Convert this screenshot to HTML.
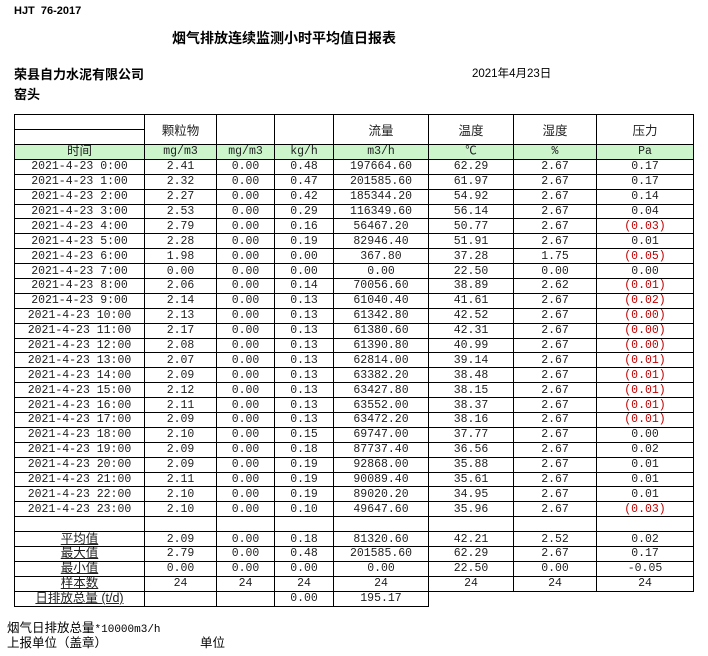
<!DOCTYPE html>
<html><head><meta charset="utf-8"><style>
body{margin:0;width:708px;height:656px;background:#fff;position:relative;overflow:hidden;font-family:"Liberation Mono","Noto Sans CJK SC",monospace;color:#000}
.a{position:absolute;white-space:nowrap}
.cj{font-family:"Liberation Sans","Noto Sans CJK SC",sans-serif}
table{position:absolute;left:14px;top:114px;border-collapse:collapse;table-layout:fixed;font-size:11.5px;color:#222}
td{border:1px solid #000;padding:0;text-align:center;height:13.9px;line-height:13px;overflow:hidden;white-space:nowrap}
tr.g td{background:#ccf5cc}
.r{color:#c00000}
.h td{height:14px}
.u{text-decoration:underline}
</style></head><body>
<div class="a cj" style="left:14px;top:5px;font-size:11px;font-weight:bold">HJT&nbsp;&nbsp;76-2017</div>
<div class="a cj" style="left:172px;top:28px;font-size:14px;font-weight:bold">烟气排放连续监测小时平均值日报表</div>
<div class="a cj" style="left:14px;top:64px;font-size:13px;font-weight:bold">荣县自力水泥有限公司</div>
<div class="a cj" style="left:14px;top:84px;font-size:13px;font-weight:bold">窑头</div>
<div class="a cj" style="left:472px;top:65px;font-size:11.5px">2021年4月23日</div>
<table>
<colgroup><col style="width:130px"><col style="width:72px"><col style="width:58px"><col style="width:59px"><col style="width:95px"><col style="width:85px"><col style="width:83px"><col style="width:97px"></colgroup>
<tr class="h"><td></td><td rowspan="2" class="cj" style="font-size:12.5px;padding-top:3px">颗粒物</td><td rowspan="2"></td><td rowspan="2"></td><td rowspan="2" class="cj" style="font-size:12.5px;padding-top:3px">流量</td><td rowspan="2" class="cj" style="font-size:12.5px;padding-top:3px">温度</td><td rowspan="2" class="cj" style="font-size:12.5px;padding-top:3px">湿度</td><td rowspan="2" class="cj" style="font-size:12.5px;padding-top:3px">压力</td></tr>
<tr class="h"><td></td></tr>
<tr class="g"><td class="cj" style="font-size:12.5px">时间</td><td>mg/m3</td><td>mg/m3</td><td>kg/h</td><td>m3/h</td><td>℃</td><td>%</td><td>Pa</td></tr>
<tr><td>2021-4-23 0:00</td><td>2.41</td><td>0.00</td><td>0.48</td><td>197664.60</td><td>62.29</td><td>2.67</td><td>0.17</td></tr>
<tr><td>2021-4-23 1:00</td><td>2.32</td><td>0.00</td><td>0.47</td><td>201585.60</td><td>61.97</td><td>2.67</td><td>0.17</td></tr>
<tr><td>2021-4-23 2:00</td><td>2.27</td><td>0.00</td><td>0.42</td><td>185344.20</td><td>54.92</td><td>2.67</td><td>0.14</td></tr>
<tr><td>2021-4-23 3:00</td><td>2.53</td><td>0.00</td><td>0.29</td><td>116349.60</td><td>56.14</td><td>2.67</td><td>0.04</td></tr>
<tr><td>2021-4-23 4:00</td><td>2.79</td><td>0.00</td><td>0.16</td><td>56467.20</td><td>50.77</td><td>2.67</td><td class="r">(0.03)</td></tr>
<tr><td>2021-4-23 5:00</td><td>2.28</td><td>0.00</td><td>0.19</td><td>82946.40</td><td>51.91</td><td>2.67</td><td>0.01</td></tr>
<tr><td>2021-4-23 6:00</td><td>1.98</td><td>0.00</td><td>0.00</td><td>367.80</td><td>37.28</td><td>1.75</td><td class="r">(0.05)</td></tr>
<tr><td>2021-4-23 7:00</td><td>0.00</td><td>0.00</td><td>0.00</td><td>0.00</td><td>22.50</td><td>0.00</td><td>0.00</td></tr>
<tr><td>2021-4-23 8:00</td><td>2.06</td><td>0.00</td><td>0.14</td><td>70056.60</td><td>38.89</td><td>2.62</td><td class="r">(0.01)</td></tr>
<tr><td>2021-4-23 9:00</td><td>2.14</td><td>0.00</td><td>0.13</td><td>61040.40</td><td>41.61</td><td>2.67</td><td class="r">(0.02)</td></tr>
<tr><td>2021-4-23 10:00</td><td>2.13</td><td>0.00</td><td>0.13</td><td>61342.80</td><td>42.52</td><td>2.67</td><td class="r">(0.00)</td></tr>
<tr><td>2021-4-23 11:00</td><td>2.17</td><td>0.00</td><td>0.13</td><td>61380.60</td><td>42.31</td><td>2.67</td><td class="r">(0.00)</td></tr>
<tr><td>2021-4-23 12:00</td><td>2.08</td><td>0.00</td><td>0.13</td><td>61390.80</td><td>40.99</td><td>2.67</td><td class="r">(0.00)</td></tr>
<tr><td>2021-4-23 13:00</td><td>2.07</td><td>0.00</td><td>0.13</td><td>62814.00</td><td>39.14</td><td>2.67</td><td class="r">(0.01)</td></tr>
<tr><td>2021-4-23 14:00</td><td>2.09</td><td>0.00</td><td>0.13</td><td>63382.20</td><td>38.48</td><td>2.67</td><td class="r">(0.01)</td></tr>
<tr><td>2021-4-23 15:00</td><td>2.12</td><td>0.00</td><td>0.13</td><td>63427.80</td><td>38.15</td><td>2.67</td><td class="r">(0.01)</td></tr>
<tr><td>2021-4-23 16:00</td><td>2.11</td><td>0.00</td><td>0.13</td><td>63552.00</td><td>38.37</td><td>2.67</td><td class="r">(0.01)</td></tr>
<tr><td>2021-4-23 17:00</td><td>2.09</td><td>0.00</td><td>0.13</td><td>63472.20</td><td>38.16</td><td>2.67</td><td class="r">(0.01)</td></tr>
<tr><td>2021-4-23 18:00</td><td>2.10</td><td>0.00</td><td>0.15</td><td>69747.00</td><td>37.77</td><td>2.67</td><td>0.00</td></tr>
<tr><td>2021-4-23 19:00</td><td>2.09</td><td>0.00</td><td>0.18</td><td>87737.40</td><td>36.56</td><td>2.67</td><td>0.02</td></tr>
<tr><td>2021-4-23 20:00</td><td>2.09</td><td>0.00</td><td>0.19</td><td>92868.00</td><td>35.88</td><td>2.67</td><td>0.01</td></tr>
<tr><td>2021-4-23 21:00</td><td>2.11</td><td>0.00</td><td>0.19</td><td>90089.40</td><td>35.61</td><td>2.67</td><td>0.01</td></tr>
<tr><td>2021-4-23 22:00</td><td>2.10</td><td>0.00</td><td>0.19</td><td>89020.20</td><td>34.95</td><td>2.67</td><td>0.01</td></tr>
<tr><td>2021-4-23 23:00</td><td>2.10</td><td>0.00</td><td>0.10</td><td>49647.60</td><td>35.96</td><td>2.67</td><td class="r">(0.03)</td></tr>
<tr><td></td><td></td><td></td><td></td><td></td><td></td><td></td><td></td></tr>
<tr><td class="cj u" style="font-size:12.5px">平均值</td><td>2.09</td><td>0.00</td><td>0.18</td><td>81320.60</td><td>42.21</td><td>2.52</td><td>0.02</td></tr>
<tr><td class="cj u" style="font-size:12.5px">最大值</td><td>2.79</td><td>0.00</td><td>0.48</td><td>201585.60</td><td>62.29</td><td>2.67</td><td>0.17</td></tr>
<tr><td class="cj u" style="font-size:12.5px">最小值</td><td>0.00</td><td>0.00</td><td>0.00</td><td>0.00</td><td>22.50</td><td>0.00</td><td>-0.05</td></tr>
<tr><td class="cj u" style="font-size:12.5px">样本数</td><td>24</td><td>24</td><td>24</td><td>24</td><td>24</td><td>24</td><td>24</td></tr>
<tr><td class="cj u" style="font-size:12.5px">日排放总量 (t/d)</td><td></td><td></td><td>0.00</td><td>195.17</td><td style="border:none"></td><td style="border:none"></td><td style="border:none"></td></tr>
</table>
<div class="a cj" style="left:7px;top:617px;font-size:12.5px">烟气日排放总量<span style="font-family:'Liberation Mono',monospace;font-size:11px">*10000m3/h</span></div>
<div class="a cj" style="left:7px;top:632px;font-size:12.5px">上报单位（盖章）</div>
<div class="a cj" style="left:200px;top:632px;font-size:12.5px">单位</div>
</body></html>
